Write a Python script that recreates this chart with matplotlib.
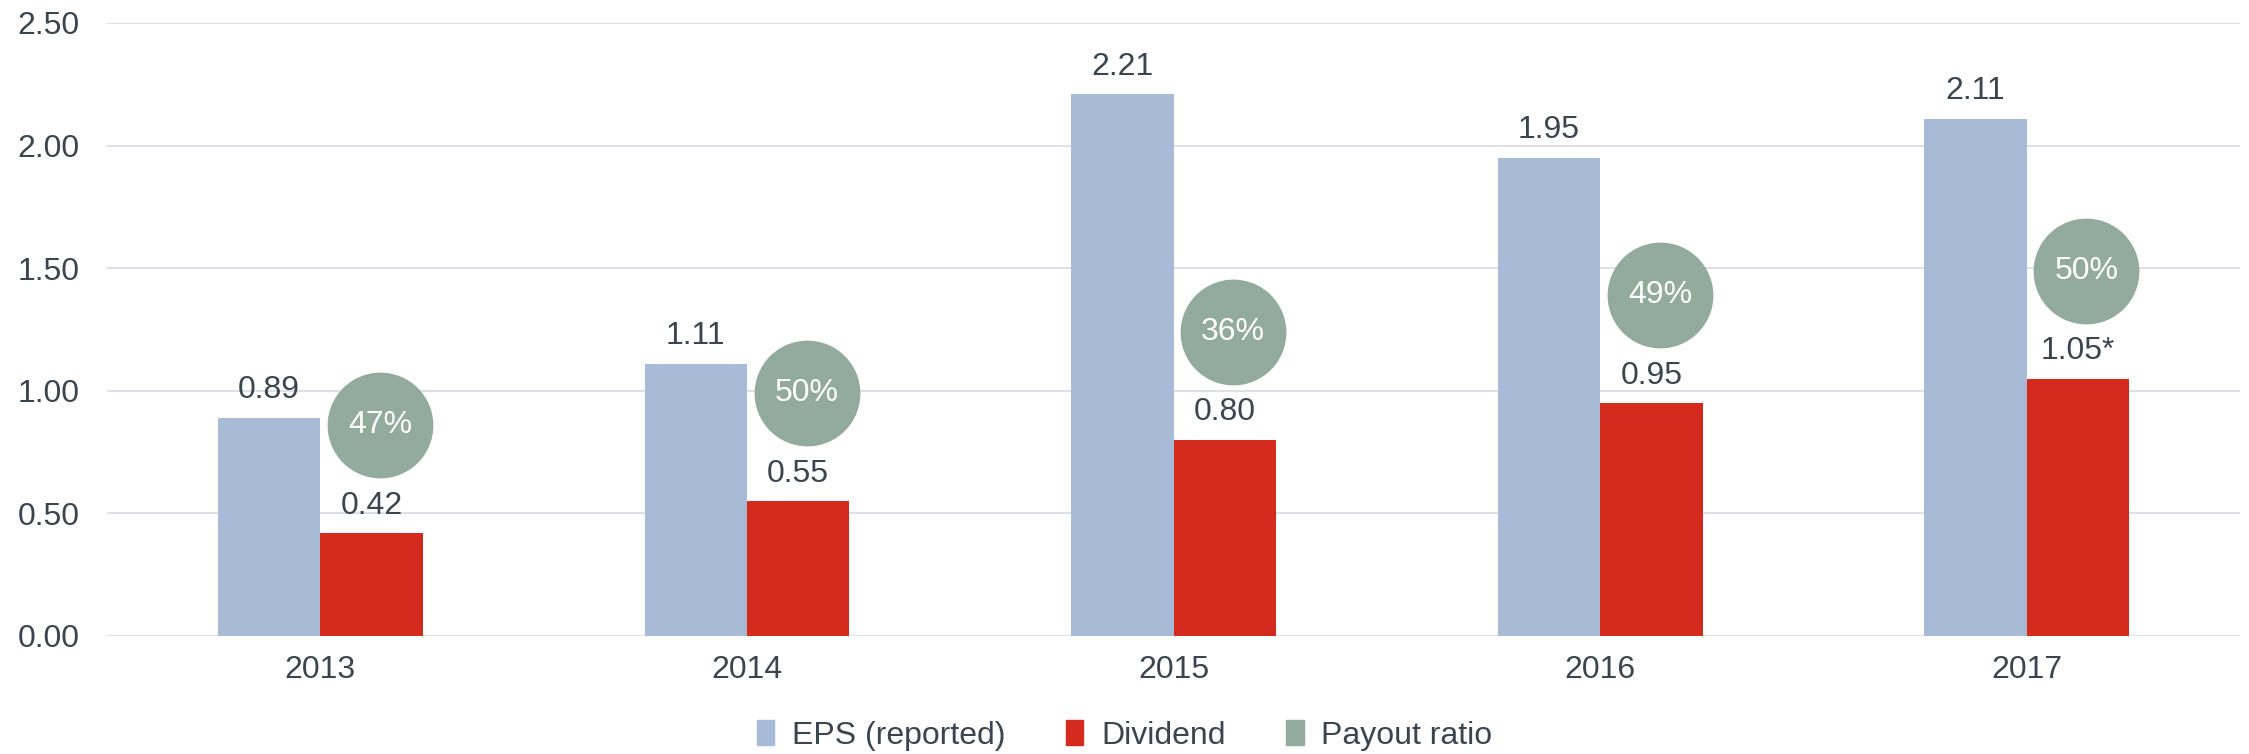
import numpy as np
import matplotlib
matplotlib.use("Agg")
from matplotlib import pyplot as plt
from matplotlib.patches import Patch

# data
years = ["2013", "2014", "2015", "2016", "2017"]
eps = [0.89, 1.11, 2.21, 1.95, 2.11]
dividend = [0.42, 0.55, 0.80, 0.95, 1.05]
dividend_labels = ["0.42", "0.55", "0.80", "0.95", "1.05*"]
payout = ["47%", "50%", "36%", "49%", "50%"]

# style
c_eps = "#a7bbd6"
c_div = "#d52b1e"
c_pay = "#93ab9c"
c_text = "#3a4550"
c_grid = "#dde1e7"
fs = 23

plt.rcParams["font.family"] = ["Liberation Sans", "DejaVu Sans"]

fig = plt.figure(figsize=(22.49, 7.54), dpi=100)
ax = fig.add_axes([0.0476, 0.1565, 0.9484, 0.813])

x = np.arange(len(years))
w = 0.24

ax.bar(x - w / 2, eps, w, color=c_eps, zorder=2)
ax.bar(x + w / 2, dividend, w, color=c_div, zorder=2)

for xi, v in zip(x, eps):
    ax.annotate(f"{v:.2f}", (xi - w / 2, v), xytext=(0, 9), textcoords="offset points",
                ha="center", va="bottom", fontsize=fs, color=c_text)
for xi, v, lab in zip(x, dividend, dividend_labels):
    ax.annotate(lab, (xi + w / 2, v), xytext=(0, 9), textcoords="offset points",
                ha="center", va="bottom", fontsize=fs, color=c_text)

# payout bubbles sit above the dividend bar
bub_y = np.array(dividend) + 0.44
bub_x = x + w / 2 + 0.02
ax.scatter(bub_x, bub_y, s=5800, color=c_pay, zorder=3, linewidths=0)
for bx, by, p in zip(bub_x, bub_y, payout):
    ax.text(bx, by, p, ha="center", va="center", fontsize=fs, color="white", zorder=4)

ax.set_xlim(-0.5, len(years) - 0.5)
ax.set_ylim(0, 2.5)
ax.set_yticks(np.arange(0, 2.51, 0.5))
ax.set_yticklabels([f"{t:.2f}" for t in np.arange(0, 2.51, 0.5)])
ax.set_xticks(x)
ax.set_xticklabels(years)
ax.tick_params(axis="both", length=0, labelsize=fs, labelcolor=c_text)
ax.tick_params(axis="y", pad=20)
ax.tick_params(axis="x", pad=14)
ax.grid(axis="y", color=c_grid, linewidth=1.5, zorder=0)
ax.set_axisbelow(True)
for s in ax.spines.values():
    s.set_visible(False)

handles = [Patch(color=c_eps, label="EPS (reported)"),
           Patch(color=c_div, label="Dividend"),
           Patch(color=c_pay, label="Payout ratio")]
fig.legend(handles=handles, loc="center", bbox_to_anchor=(0.5, 0.025), ncol=3,
           frameon=False, fontsize=fs, labelcolor=c_text, handlelength=0.55,
           handleheight=0.85, handletextpad=0.55, columnspacing=1.9)

fig.savefig("out.png", dpi=100)
